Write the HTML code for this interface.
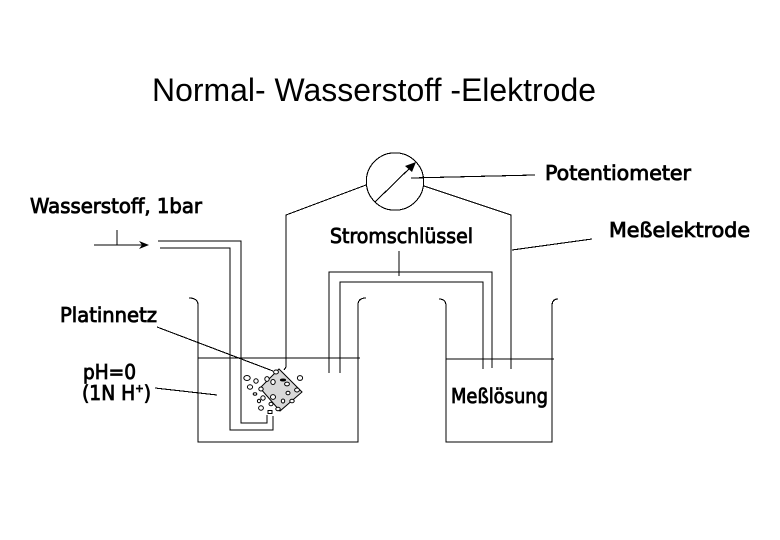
<!DOCTYPE html>
<html>
<head>
<meta charset="utf-8">
<style>
html,body{margin:0;padding:0;background:#fff;width:780px;height:540px;overflow:hidden}
svg{display:block}
.l{fill:none;stroke:#000;stroke-width:1.1;shape-rendering:crispEdges}
.b{fill:#fff;stroke:#000;stroke-width:1}
.t{font-family:"DejaVu Sans","Liberation Sans",sans-serif;font-size:20.5px;fill:#000;stroke:#000;stroke-width:.85}
</style>
</head>
<body>
<svg width="780" height="540" viewBox="0 0 780 540" xmlns="http://www.w3.org/2000/svg">
<rect width="780" height="540" fill="#fff"/>
<text x="152" y="101" font-family="'Liberation Sans',sans-serif" font-size="32" fill="#000" textLength="444" lengthAdjust="spacingAndGlyphs">Normal- Wasserstoff -Elektrode</text>

<!-- Platinum mesh -->
<polygon points="279,369 302,392 280,411 260,388" fill="#d8d8d8" stroke="#000" stroke-width="1"/>

<g class="l">
<!-- Beakers -->
<path d="M189,298 Q198,298 198,305 V442 H358 V305 Q358,298 366,298"/>
<path d="M439,299 Q446,299 446,306 V442 H552 V306 Q552,299 558,299"/>
<path d="M198,358 H360"/>
<path d="M446,359 H554"/>
<!-- Inlet -->
<path d="M94,245 H146"/>
<path d="M117,230 V245"/>
<path d="M158,241 H241 V423 H267 V415"/>
<path d="M160,248 H230 V430 H273 V416"/>
<!-- Salt bridge -->
<path d="M329,373 V272 H492 V368"/>
<path d="M340,373 V282 H483 V369"/>
<path d="M399,251 V276"/>
<!-- Potentiometer -->
<circle cx="395" cy="181.5" r="28.7"/>
<path d="M375,202 L414,164"/>
<path d="M411,178 L535,175"/>
<path d="M366,185 L286,215 V367 L284,370"/>
<path d="M424,186 L511,215 V369"/>
<path d="M512,250 L592,239"/>
<!-- Leaders -->
<path d="M157,327 L273,371"/>
<path d="M155,388 L217,395"/>
</g>
<polygon points="149,245 139,241 142,245 139,249" fill="#000"/>
<polygon points="416,162 405,166 412,172" fill="#000"/>

<!-- Bubbles -->
<g class="b">
<ellipse cx="247" cy="378" rx="3.2" ry="2.5"/><ellipse cx="256" cy="381" rx="2.2" ry="2.2"/>
<ellipse cx="250" cy="387" rx="2.6" ry="2.2"/><ellipse cx="267" cy="379" rx="2.2" ry="2.4"/>
<ellipse cx="276" cy="372" rx="2.4" ry="2"/><ellipse cx="273" cy="382" rx="2.2" ry="2.5"/>
<ellipse cx="283" cy="380" rx="2.6" ry="1" fill="#000"/><ellipse cx="287" cy="384" rx="2.4" ry="1.9"/>
<ellipse cx="300" cy="378" rx="2.6" ry="2.4"/><ellipse cx="297" cy="390" rx="2.4" ry="2"/>
<ellipse cx="288" cy="393" rx="2" ry="1.8"/><ellipse cx="261" cy="389" rx="2.2" ry="2"/>
<ellipse cx="255" cy="394" rx="1.8" ry="1.2"/><ellipse cx="263" cy="398" rx="2.2" ry="2.2"/>
<ellipse cx="259" cy="401" rx="1.6" ry="1.8"/><ellipse cx="273" cy="397" rx="2.5" ry="2.4"/>
<ellipse cx="271" cy="404" rx="2" ry="1.8"/><ellipse cx="283" cy="401" rx="1.7" ry="2"/>
<ellipse cx="292" cy="401" rx="2.2" ry="1.8"/><ellipse cx="261" cy="408" rx="2.4" ry="2.2"/>
<ellipse cx="278" cy="409" rx="2.2" ry="1.7"/><rect x="268" y="410.5" width="4" height="3"/>
</g>

<!-- Labels -->
<text class="t" x="545" y="180" textLength="146" lengthAdjust="spacingAndGlyphs">Potentiometer</text>
<text class="t" x="609" y="237" textLength="141" lengthAdjust="spacingAndGlyphs">Meßelektrode</text>
<text class="t" x="30" y="213" textLength="172" lengthAdjust="spacingAndGlyphs">Wasserstoff, 1bar</text>
<text class="t" x="330" y="243" textLength="143" lengthAdjust="spacingAndGlyphs">Stromschlüssel</text>
<text class="t" x="60" y="322" textLength="97" lengthAdjust="spacingAndGlyphs">Platinnetz</text>
<text class="t" x="83" y="379" textLength="53" lengthAdjust="spacingAndGlyphs">pH=0</text>
<text class="t" x="82" y="400" textLength="69" lengthAdjust="spacingAndGlyphs">(1N H<tspan font-size="11" dy="-8">+</tspan><tspan dy="8">)</tspan></text>
<text class="t" x="451" y="403" textLength="97" lengthAdjust="spacingAndGlyphs">Meßlösung</text>
</svg>
</body>
</html>
